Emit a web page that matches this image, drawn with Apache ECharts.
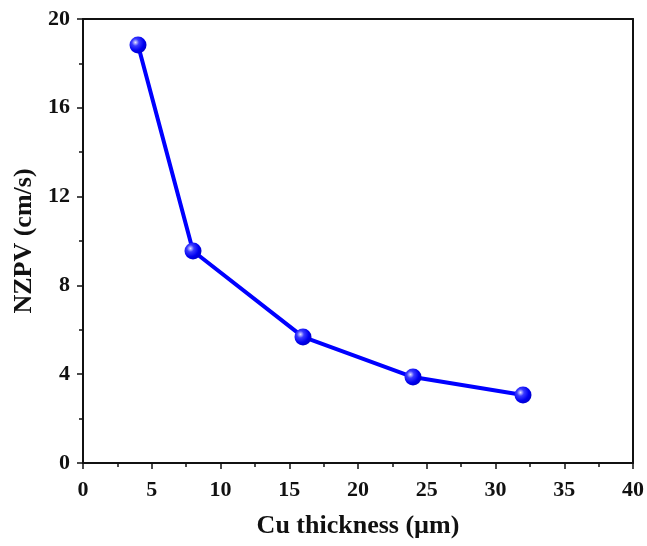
<!DOCTYPE html>
<html>
<head>
<meta charset="utf-8">
<script src="https://cdn.jsdelivr.net/npm/echarts@6/dist/echarts.min.js"></script>
<style>
html,body{margin:0;padding:0;background:#fff;}
#main{width:647px;height:546px;}
</style>
</head>
<body>
<div id="main"></div>
<script>
var thickness = [4, 8, 16, 24, 32];
var nzpv = [18.83, 9.55, 5.68, 3.87, 3.06];
var xTicks = [0, 5, 10, 15, 20, 25, 30, 35, 40];
var yTicks = [0, 4, 8, 12, 16, 20];

var font = '"Liberation Serif", "Times New Roman", serif';
var points = [];
for (var i = 0; i < thickness.length; i++) {
	points.push([thickness[i], nzpv[i]]);
}

var chart = echarts.init(document.getElementById('main'));
var ballColor = new echarts.graphic.RadialGradient(0.35, 0.35, 0.7, [
	{offset: 0, color: '#e6e6ff'},
	{offset: 0.3, color: '#3a3aff'},
	{offset: 0.7, color: '#0000f0'},
	{offset: 1, color: '#0000c8'}
]);

var option = {
	animation: false,
	backgroundColor: '#fff',
	grid: {left: 83, right: 9, top: 19, bottom: 83},
	xAxis: [{
		type: 'value',
		min: xTicks[0], max: xTicks[xTicks.length - 1], interval: 5,
		name: 'Cu thickness (µm)',
		nameLocation: 'middle', nameGap: 50,
		nameTextStyle: {fontFamily: font, fontWeight: 'bold', fontSize: 26, color: '#111'},
		axisLine: {lineStyle: {color: '#111', width: 2}},
		axisTick: {inside: false, length: 6, lineStyle: {color: '#111', width: 1.5}},
		minorTick: {show: true, splitNumber: 2, length: 4, lineStyle: {color: '#111', width: 1.5}},
		axisLabel: {fontFamily: font, fontWeight: 'bold', fontSize: 22, color: '#111', margin: 16},
		splitLine: {show: false}
	}, {
		type: 'value', position: 'top',
		min: 0, max: 40,
		axisLine: {show: true, onZero: false, lineStyle: {color: '#111', width: 2}},
		axisTick: {show: false}, axisLabel: {show: false}, splitLine: {show: false}
	}],
	yAxis: [{
		type: 'value',
		min: yTicks[0], max: yTicks[yTicks.length - 1], interval: 4,
		name: 'NZPV (cm/s)',
		nameLocation: 'middle', nameGap: 38,
		nameTextStyle: {fontFamily: font, fontWeight: 'bold', fontSize: 26, color: '#111'},
		axisLine: {show: true, lineStyle: {color: '#111', width: 2}},
		axisTick: {show: true, inside: false, length: 6, lineStyle: {color: '#111', width: 1.5}},
		minorTick: {show: true, splitNumber: 2, length: 4, lineStyle: {color: '#111', width: 1.5}},
		axisLabel: {fontFamily: font, fontWeight: 'bold', fontSize: 22, color: '#111', margin: 13},
		splitLine: {show: false}
	}, {
		type: 'value', position: 'right',
		min: 0, max: 20,
		axisLine: {show: true, onZero: false, lineStyle: {color: '#111', width: 2}},
		axisTick: {show: false}, axisLabel: {show: false}, splitLine: {show: false}
	}],
	series: [{
		type: 'line',
		data: points,
		symbol: 'circle',
		symbolSize: 17,
		lineStyle: {color: '#0000ff', width: 4},
		itemStyle: {color: ballColor},
		z: 3
	}]
};
chart.setOption(option);
</script>
</body>
</html>
